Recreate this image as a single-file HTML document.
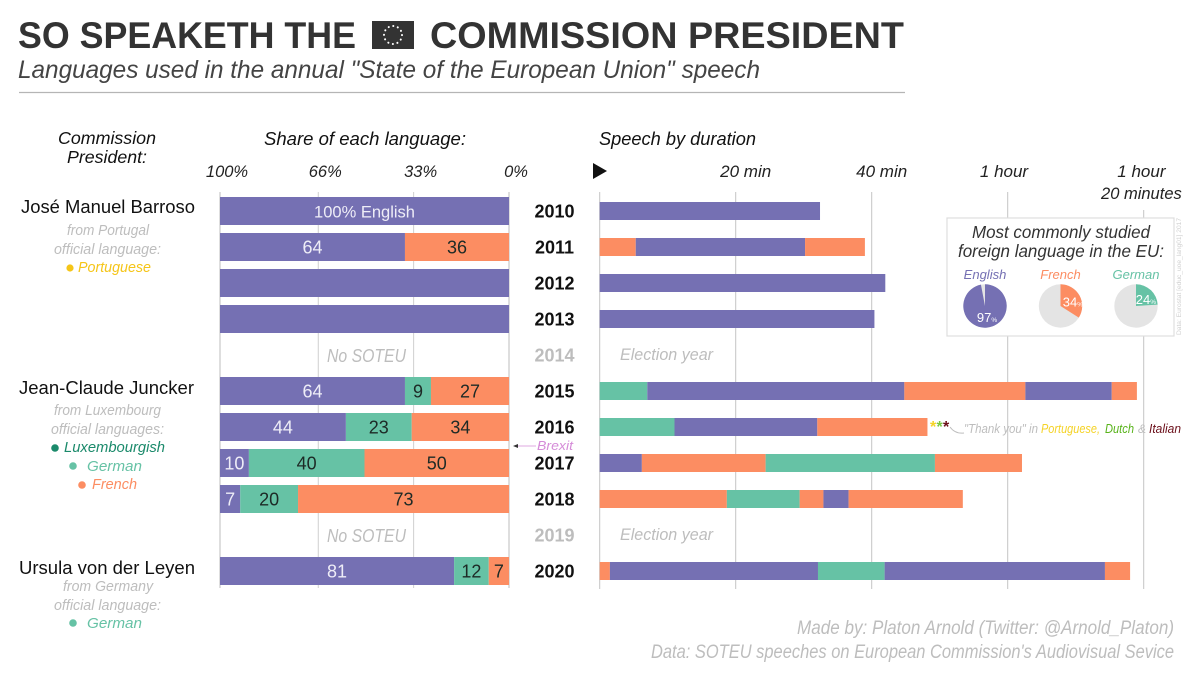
<!DOCTYPE html>
<html lang="en">
<head>
<meta charset="utf-8">
<title>So Speaketh the Commission President</title>
<style>
html,body{margin:0;padding:0;background:#fff;width:1200px;height:674px;overflow:hidden}
svg{display:block;font-family:"Liberation Sans",sans-serif}
text{white-space:pre}
.it{font-style:italic}
.grey{fill:#bdbdbd;font-style:italic}
</style>
</head>
<body>
<svg id="chart" width="1200" height="674" viewBox="0 0 1200 674" xmlns="http://www.w3.org/2000/svg">
<rect width="1200" height="674" fill="#ffffff"/>

<text x="18" y="48" font-size="37" font-weight="700" fill="#333333" textLength="338" lengthAdjust="spacingAndGlyphs">SO SPEAKETH THE</text>
<g>
<rect x="372" y="21" width="42" height="28" fill="#333333"/>
<circle cx="393" cy="35" r="9" fill="none" stroke="#ffffff" stroke-width="2" stroke-linecap="round" stroke-dasharray="0.1 4.61"/>
</g>
<text x="430" y="48" font-size="37" font-weight="700" fill="#333333" textLength="474" lengthAdjust="spacingAndGlyphs">COMMISSION PRESIDENT</text>
<text class="it" x="18" y="78" font-size="25" fill="#444444" textLength="742" lengthAdjust="spacingAndGlyphs">Languages used in the annual "State of the European Union" speech</text>
<line x1="19" x2="905" y1="92.5" y2="92.5" stroke="#b5b5b5" stroke-width="1.2"/>

<text class="it" x="58" y="144" font-size="17.5" fill="#111111" textLength="98" lengthAdjust="spacingAndGlyphs">Commission</text>
<text class="it" x="67" y="163" font-size="17.5" fill="#111111" textLength="80" lengthAdjust="spacingAndGlyphs">President:</text>
<text class="it" x="264" y="145" font-size="18" fill="#111111" textLength="202" lengthAdjust="spacingAndGlyphs">Share of each language:</text>
<text class="it" x="599" y="145" font-size="18" fill="#111111" textLength="157" lengthAdjust="spacingAndGlyphs">Speech by duration</text>
<polygon points="593,163 607,171 593,179" fill="#111111"/>

<g id="share-grid"></g>
<g id="time-grid"></g>
<g id="share-bars"></g>
<g id="time-bars"></g>
<g id="year-labels"></g>

<text class="grey" x="327" y="362" font-size="18" textLength="79" lengthAdjust="spacingAndGlyphs">No SOTEU</text>
<text class="grey" x="327" y="542" font-size="18" textLength="79" lengthAdjust="spacingAndGlyphs">No SOTEU</text>
<text class="grey" x="620" y="360" font-size="17" textLength="93" lengthAdjust="spacingAndGlyphs">Election year</text>
<text class="grey" x="620" y="540" font-size="17" textLength="93" lengthAdjust="spacingAndGlyphs">Election year</text>

<g>
<text x="21" y="213" font-size="18" fill="#111111" textLength="174" lengthAdjust="spacingAndGlyphs">José Manuel Barroso</text>
<text class="grey" x="67" y="235" font-size="15" textLength="82" lengthAdjust="spacingAndGlyphs">from Portugal</text>
<text class="grey" x="54" y="254" font-size="15" textLength="107" lengthAdjust="spacingAndGlyphs">official language:</text>
<circle cx="70" cy="268" r="3.6" fill="#f5c518"/>
<text class="it" x="78" y="272" font-size="15" fill="#f5c518" textLength="73" lengthAdjust="spacingAndGlyphs">Portuguese</text>
</g>
<g>
<text x="19" y="394" font-size="18" fill="#111111" textLength="175" lengthAdjust="spacingAndGlyphs">Jean-Claude Juncker</text>
<text class="grey" x="54" y="415" font-size="15" textLength="107" lengthAdjust="spacingAndGlyphs">from Luxembourg</text>
<text class="grey" x="51" y="434" font-size="15" textLength="113" lengthAdjust="spacingAndGlyphs">official languages:</text>
<circle cx="55" cy="448" r="3.8" fill="#1b8a6b"/>
<text class="it" x="64" y="452" font-size="15" fill="#1b8a6b" textLength="101" lengthAdjust="spacingAndGlyphs">Luxembourgish</text>
<circle cx="73" cy="466" r="3.8" fill="#66c2a5"/>
<text class="it" x="87" y="471" font-size="15" fill="#66c2a5" textLength="55" lengthAdjust="spacingAndGlyphs">German</text>
<circle cx="82" cy="485" r="3.8" fill="#fc8d62"/>
<text class="it" x="92" y="489" font-size="15" fill="#fc8d62" textLength="45" lengthAdjust="spacingAndGlyphs">French</text>
</g>
<g>
<text x="19" y="574" font-size="18" fill="#111111" textLength="176" lengthAdjust="spacingAndGlyphs">Ursula von der Leyen</text>
<text class="grey" x="63" y="591" font-size="15" textLength="90" lengthAdjust="spacingAndGlyphs">from Germany</text>
<text class="grey" x="54" y="610" font-size="15" textLength="107" lengthAdjust="spacingAndGlyphs">official language:</text>
<circle cx="73" cy="623" r="3.8" fill="#66c2a5"/>
<text class="it" x="87" y="628" font-size="15" fill="#66c2a5" textLength="55" lengthAdjust="spacingAndGlyphs">German</text>
</g>

<g>
<line x1="516" x2="536" y1="446" y2="446" stroke="#d58bd8" stroke-width="0.8"/>
<polygon points="513,446 518,444 518,448" fill="#333333"/>
<text class="it" x="537" y="450" font-size="13" fill="#d58bd8" textLength="36" lengthAdjust="spacingAndGlyphs">Brexit</text>
</g>

<g>
<text x="930" y="432" font-size="16" font-weight="700" fill="#f5d327">*</text>
<text x="936.5" y="432" font-size="16" font-weight="700" fill="#7ac943">*</text>
<text x="943" y="432" font-size="16" font-weight="700" fill="#6b0f1a">*</text>
<path d="M950 427 Q955 434 964 433" fill="none" stroke="#bdbdbd" stroke-width="1"/>
<text class="grey" x="964" y="433" font-size="13" textLength="74" lengthAdjust="spacingAndGlyphs">"Thank you" in</text>
<text class="it" x="1041" y="433" font-size="13" fill="#f5d327" textLength="59" lengthAdjust="spacingAndGlyphs">Portuguese,</text>
<text class="it" x="1105" y="433" font-size="13" fill="#58b31a" textLength="29" lengthAdjust="spacingAndGlyphs">Dutch</text>
<text class="grey" x="1138" y="433" font-size="12">&amp;</text>
<text class="it" x="1149" y="433" font-size="13" fill="#6b0f1a" textLength="32" lengthAdjust="spacingAndGlyphs">Italian</text>
</g>

<g>
<rect x="947" y="218" width="227" height="118" fill="#ffffff" stroke="#dedede" stroke-width="1.2"/>
<text class="it" x="972" y="238" font-size="17.5" fill="#333333" textLength="178" lengthAdjust="spacingAndGlyphs">Most commonly studied</text>
<text class="it" x="958" y="257" font-size="17.5" fill="#333333" textLength="206" lengthAdjust="spacingAndGlyphs">foreign language in the EU:</text>
<g id="pies"></g>
<text transform="translate(1181,335) rotate(-90)" font-size="6.5" fill="#d0d0d0" textLength="117" lengthAdjust="spacingAndGlyphs">Data: Eurostat [educ_uoe_lang01] 2017</text>
</g>

<text class="grey" x="797" y="634" font-size="19" textLength="377" lengthAdjust="spacingAndGlyphs">Made by: Platon Arnold (Twitter: @Arnold_Platon)</text>
<text class="grey" x="651" y="658" font-size="19" textLength="523" lengthAdjust="spacingAndGlyphs">Data: SOTEU speeches on European Commission's Audiovisual Sevice</text>
</svg>

<script>
const shareYears = [2010, 2011, 2012, 2013, 2015, 2016, 2017, 2018, 2020];
const shareEnglish = [100, 64, 100, 100, 64, 44, 10, 7, 81];
const shareGerman = [0, 0, 0, 0, 9, 23, 40, 20, 12];
const shareFrench = [0, 36, 0, 0, 27, 34, 50, 73, 7];
const shareTicks = [100, 66, 33, 0];
const shareTickLabels = ['100%', '66%', '33%', '0%'];

const allYears = [2010, 2011, 2012, 2013, 2014, 2015, 2016, 2017, 2018, 2019, 2020];
const noSpeechYears = [2014, 2019];

const timeTicks = [0, 20, 40, 60, 80];
const timeTickLines1 = ['', '20 min', '40 min', '1 hour', '1 hour'];
const timeTickLine2 = '20 minutes';

const langs2010 = ['E'];
const mins2010 = [32.4];
const langs2011 = ['F', 'E', 'F'];
const mins2011 = [5.3, 24.9, 8.8];
const langs2012 = ['E'];
const mins2012 = [42];
const langs2013 = ['E'];
const mins2013 = [40.4];
const langs2015 = ['G', 'E', 'F', 'E', 'F'];
const mins2015 = [7.0, 37.8, 17.8, 12.7, 3.7];
const langs2016 = ['G', 'E', 'F'];
const mins2016 = [11.0, 21.0, 16.2];
const langs2017 = ['E', 'F', 'G', 'F'];
const mins2017 = [6.2, 18.2, 24.9, 12.8];
const langs2018 = ['F', 'G', 'F', 'E', 'F'];
const mins2018 = [18.7, 10.7, 3.5, 3.7, 16.8];
const langs2020 = ['F', 'E', 'G', 'E', 'F'];
const mins2020 = [1.5, 30.6, 9.8, 32.4, 3.7];

const speechYears = [2010, 2011, 2012, 2013, 2015, 2016, 2017, 2018, 2020];
const speechLangs = [langs2010, langs2011, langs2012, langs2013, langs2015, langs2016, langs2017, langs2018, langs2020];
const speechMins = [mins2010, mins2011, mins2012, mins2013, mins2015, mins2016, mins2017, mins2018, mins2020];

const pieNames = ['English', 'French', 'German'];
const pieValues = [97, 34, 24];

const NS = 'http://www.w3.org/2000/svg';
const COLORS = { E: '#7570b3', G: '#66c2a5', F: '#fc8d62' };
const PIE_COLORS = ['#7570b3', '#fc8d62', '#66c2a5'];

function xShare(v) { return 509 - (v / 100) * 289; }
function xTime(m) { return 599.7 + m * 6.8; }
function yRow(year) { return 197 + (year - 2010) * 36; }
function xPie(i) { return 985 + i * 75.5; }

function make(tag, attrs, parent, content) {
  const el = document.createElementNS(NS, tag);
  Object.keys(attrs).forEach(function (k) { el.setAttribute(k, attrs[k]); });
  if (content !== undefined) el.textContent = content;
  parent.appendChild(el);
  return el;
}

const shareGrid = document.getElementById('share-grid');
shareTicks.forEach(function (t, i) {
  const x = xShare(t);
  const line = make('line', { x1: x, x2: x, y1: 192, y2: 588, stroke: i === 0 || i === 3 ? '#bdbdbd' : '#cfcfcf', 'stroke-width': 1 }, shareGrid);
  
  
  const label = make('text', { x: x + 7, y: 177, 'font-size': 16.5, 'font-style': 'italic', fill: '#222222', 'text-anchor': 'middle' }, shareGrid, shareTickLabels[i]);
  
  
});

const timeGrid = document.getElementById('time-grid');
timeTicks.forEach(function (t, i) {
  const x = xTime(t);
  const top = t === 80 ? 210 : 192;
  const line = make('line', { x1: x, x2: x, y1: top, y2: 589, stroke: '#c4c4c4', 'stroke-width': 1 }, timeGrid);
  
  
  if (timeTickLines1[i]) {
    const label = make('text', { x: x + (t >= 60 ? (t === 80 ? -2.3 : -3.7) : 10), y: 177, 'font-size': 17, 'font-style': 'italic', fill: '#222222', 'text-anchor': 'middle' }, timeGrid, timeTickLines1[i]);
    
    
  }
});
const tickSecond = make('text', { x: xTime(80) - 2.3, y: 199, 'font-size': 16.5, 'font-style': 'italic', fill: '#222222', 'text-anchor': 'middle' }, timeGrid, timeTickLine2);



const shareBars = document.getElementById('share-bars');
shareYears.forEach(function (year, i) {
  const parts = [['E', shareEnglish[i]], ['G', shareGerman[i]], ['F', shareFrench[i]]];
  const total = shareEnglish[i] + shareGerman[i] + shareFrench[i];
  let used = 0;
  const y = yRow(year);
  parts.forEach(function (p) {
    if (p[1] <= 0) return;
    const x0 = xShare(100 - used / total * 100);
    const x1 = xShare(100 - (used + p[1]) / total * 100);
    const seg = make('rect', { x: x0, y: y, width: x1 - x0, height: 28, fill: COLORS[p[0]] }, shareBars);
    
    
    used += p[1];
    let text = String(p[1]);
    if (p[1] === 100) text = year === 2010 ? '100% English' : '';
    if (text) {
      const lab = make('text', { x: (x0 + x1) / 2, y: y + 20.5, 'font-size': p[1] === 100 ? 16.5 : 18, fill: p[0] === 'E' ? '#eeedf7' : '#1d2a26', 'text-anchor': 'middle' }, shareBars, text);
      
      
    }
  });
});

const timeBars = document.getElementById('time-bars');
speechYears.forEach(function (year, i) {
  const y = yRow(year) + 5;
  let elapsed = 0;
  speechMins[i].forEach(function (m, j) {
    const x0 = xTime(elapsed);
    const x1 = xTime(elapsed + m);
    const seg = make('rect', { x: x0, y: y, width: x1 - x0, height: 18, fill: COLORS[speechLangs[i][j]] }, timeBars);
    
    
    elapsed += m;
  });
});

const yearLabels = document.getElementById('year-labels');
allYears.forEach(function (year) {
  const muted = noSpeechYears.indexOf(year) >= 0;
  const lab = make('text', { x: 554.5, y: yRow(year) + 20.5, 'font-size': 18, 'font-weight': 700, fill: muted ? '#bdbdbd' : '#111111', 'text-anchor': 'middle' }, yearLabels, String(year));
  
  
});

const pies = document.getElementById('pies');
pieNames.forEach(function (name, i) {
  const cx = xPie(i), cy = 306, r = 21.7;
  const heading = make('text', { x: cx, y: 279, 'font-size': 13, 'font-style': 'italic', fill: PIE_COLORS[i], 'text-anchor': 'middle' }, pies, name);
  
  
  const base = make('circle', { cx: cx, cy: cy, r: r, fill: '#e4e4e4' }, pies);
  
  
  const a = pieValues[i] / 100 * 2 * Math.PI;
  const ex = cx + r * Math.sin(a), ey = cy - r * Math.cos(a);
  const slice = make('path', { d: 'M' + cx + ' ' + cy + ' L' + cx + ' ' + (cy - r) + ' A' + r + ' ' + r + ' 0 ' + (a > Math.PI ? 1 : 0) + ' 1 ' + ex + ' ' + ey + ' Z', fill: PIE_COLORS[i] }, pies);
  
  
  const mid = a / 2;
  const big = pieValues[i] > 50;
  const lx = big ? cx + 2 : cx + 13 * Math.sin(mid) + 1;
  const ly = big ? cy + 16 : cy - 11 * Math.cos(mid) + 6;
  const pct = make('text', { x: lx, y: ly, 'font-size': 13, fill: '#ffffff', 'text-anchor': 'middle' }, pies);
  
  
  make('tspan', {}, pct, String(pieValues[i]));
  make('tspan', { 'font-size': 6.5 }, pct, '%');
});
</script>
</body>
</html>
